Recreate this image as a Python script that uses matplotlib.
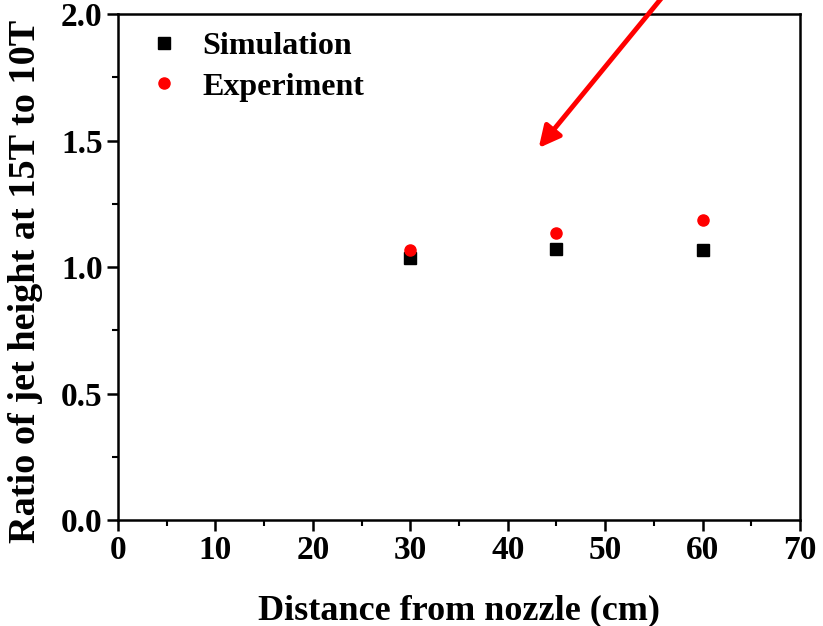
import matplotlib.pyplot as plt

# distance from nozzle (cm)
distance = [30, 45, 60]
# ratio of jet height at 15T to 10T
simulation = [1.035, 1.071, 1.067]
experiment = [1.067, 1.134, 1.186]

plt.rcParams['font.family'] = 'Liberation Serif'
plt.rcParams['font.weight'] = 'bold'

fig = plt.figure(figsize=(8.23, 6.26), dpi=100)
ax = fig.add_axes([0.1434, 0.1693, 0.8286, 0.8083])

ax.plot(distance, simulation, 's', color='black', markersize=8.5, label='Simulation')
ax.plot(distance, experiment, 'o', color='red', markersize=8, label='Experiment')

ax.set_xlim(0, 70)
ax.set_ylim(0, 2.0)
ax.set_xticks(range(0, 71, 10))
ax.set_xticks(range(5, 70, 10), minor=True)
ax.set_yticks([0, 0.5, 1.0, 1.5, 2.0])
ax.set_yticks([0.25, 0.75, 1.25, 1.75], minor=True)
ax.yaxis.set_major_formatter(plt.FormatStrFormatter('%.1f'))

for s in ax.spines.values():
    s.set_linewidth(1.8)
ax.tick_params(which='major', direction='out', length=8, width=1.8, labelsize=24, pad=3)
ax.tick_params(which='minor', direction='out', length=4, width=1.5)
ax.tick_params(which='both', top=False, right=False)

ax.set_xlabel('Distance from nozzle (cm)', fontsize=26, fontweight='bold', labelpad=20)
ax.set_ylabel('Ratio of jet height at 15T to 10T', fontsize=27.5, fontweight='bold')
ax.yaxis.set_label_coords(-0.11, 0.472)

ax.legend(loc='upper left', bbox_to_anchor=(-0.012, 1.025), frameon=False, fontsize=23,
          handletextpad=0.45, labelspacing=0.35, borderpad=0.45, handlelength=1.5)

# red arrow coming in from above the plot
ax.annotate('', xy=(43.0, 1.462), xytext=(57.3, 2.134),
            arrowprops=dict(arrowstyle='-|>', color='red', lw=3.5, mutation_scale=32),
            annotation_clip=False)

fig.savefig('out.png', dpi=100)
